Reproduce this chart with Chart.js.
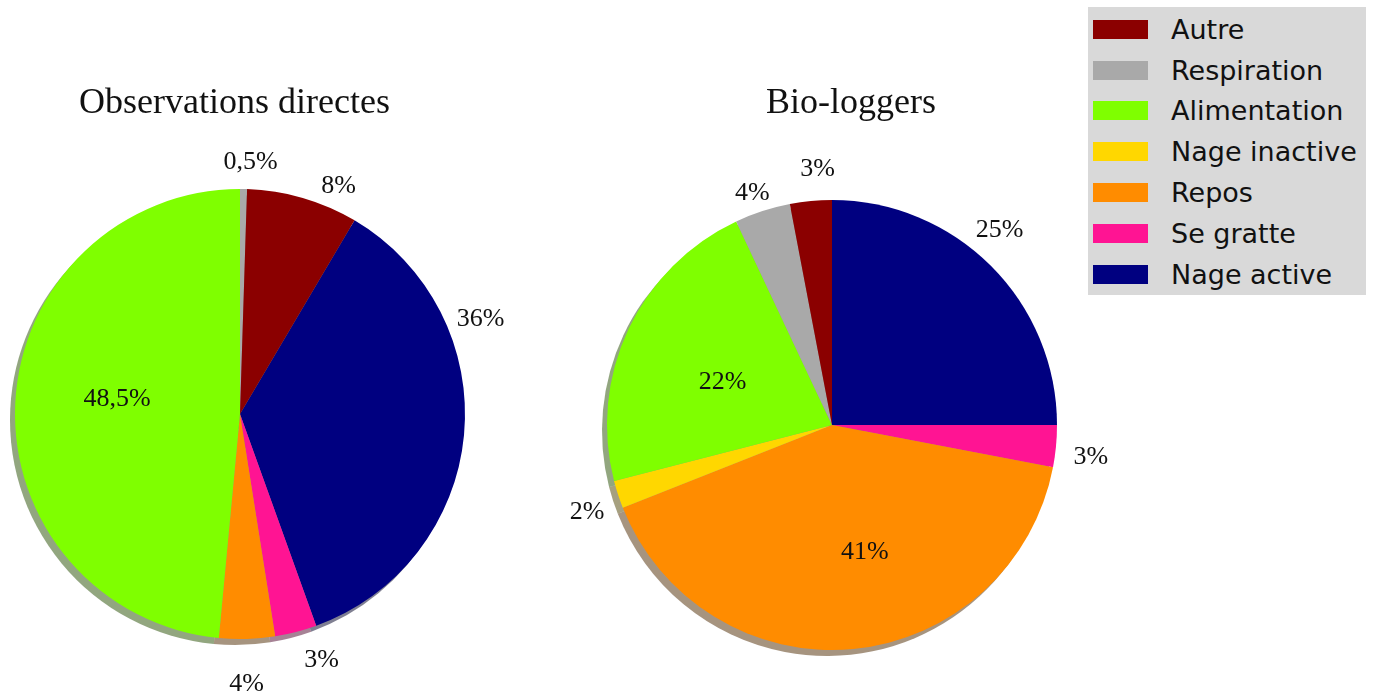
<!DOCTYPE html>
<html>
<head>
<meta charset="utf-8">
<script src="https://cdn.jsdelivr.net/npm/chart.js@4/dist/chart.umd.min.js"></script>
<style>
  html, body { margin: 0; padding: 0; background: #fff; overflow: hidden; }
  #page { position: relative; width: 1374px; height: 697px; }
  canvas { position: absolute; left: 0; top: 0; }
  #legend {
    position: absolute; left: 1088px; top: 7px; width: 278px; height: 288px;
    background: #d9d9d9; box-sizing: border-box; padding-top: 2px;
    font-family: "DejaVu Sans", sans-serif; font-size: 27px; color: #111;
  }
  .row { height: 40.8px; display: flex; align-items: center; }
  .sw { width: 55px; height: 19px; margin-left: 5px; margin-right: 23px; }
</style>
</head>
<body>
<div id="page">
  <canvas id="obsChart" width="1374" height="697"></canvas>
  <canvas id="bioChart" width="1374" height="697"></canvas>
  <div id="legend"></div>
</div>
<script>
// categories in legend order (wedges go counterclockwise in this order)
const categories = ['Autre', 'Respiration', 'Alimentation', 'Nage inactive', 'Repos', 'Se gratte', 'Nage active'];
const colors = ['#8b0000', '#a9a9a9', '#7fff00', '#ffd700', '#ff8c00', '#ff1493', '#000080'];

// percentages
const obsValues = [8, 0.5, 48.5, 0, 4, 3, 36];
const bioValues = [3, 4, 22, 2, 41, 3, 25];
const obsLabels = ['8%', '0,5%', '48,5%', null, '4%', '3%', '36%'];
const bioLabels = ['3%', '4%', '22%', '2%', '41%', '3%', '25%'];

// where each percentage sits: [angle from 12 o'clock (deg, clockwise), distance / radius]
const obsPlaces = [[23.3, 1.108], [2.4, 1.125], [277.4, 0.551], null, [178.6, 1.196], [161.6, 1.148], [68.2, 1.151]];
const bioPlaces = [[356.8, 1.143], [341.1, 1.094], [291.8, 0.524], [250.7, 1.153], [165.4, 0.581], [96.8, 1.158], [40.5, 1.146]];

function shadowOf(hex) {
    const n = parseInt(hex.slice(1), 16);
    const r = (n >> 16) & 255, g = (n >> 8) & 255, b = n & 255;
    return `rgba(${Math.round(r * 0.3)}, ${Math.round(g * 0.3)}, ${Math.round(b * 0.3)}, 0.5)`;
}

const pieDecor = {
    id: 'pieDecor',
    beforeDatasetsDraw(chart, args, opts) {
        const ctx = chart.ctx;
        const arcs = chart.getDatasetMeta(0).data;
        ctx.save();
        arcs.forEach((arc) => {
            const { x, y, startAngle, endAngle, outerRadius } = arc.getProps(['x', 'y', 'startAngle', 'endAngle', 'outerRadius'], true);
            if (endAngle - startAngle <= 0) return;
            ctx.beginPath();
            ctx.moveTo(x + opts.shadowDx, y + opts.shadowDy);
            ctx.arc(x + opts.shadowDx, y + opts.shadowDy, outerRadius, startAngle, endAngle);
            ctx.closePath();
            ctx.fillStyle = shadowOf(arc.options.backgroundColor);
            ctx.fill();
        });
        ctx.restore();
    },
    afterDatasetsDraw(chart, args, opts) {
        const ctx = chart.ctx;
        const arc = chart.getDatasetMeta(0).data[0];
        const cx = arc.x, cy = arc.y, r = arc.outerRadius;
        ctx.save();
        ctx.fillStyle = '#111';
        ctx.textAlign = 'center';
        ctx.textBaseline = 'middle';
        ctx.font = '26px "Liberation Serif", "Times New Roman", serif';
        opts.labels.forEach((txt, i) => {
            const p = opts.places[i];
            if (!txt || !p) return;
            const a = p[0] * Math.PI / 180;
            ctx.fillText(txt, cx + p[1] * r * Math.sin(a), cy - p[1] * r * Math.cos(a) + 1);
        });
        ctx.textBaseline = 'alphabetic';
        ctx.font = '36px "Liberation Serif", "Times New Roman", serif';
        ctx.fillText(opts.title, opts.titleX, opts.titleY);
        ctx.restore();
    }
};

function makePie(id, values, labels, places, title, titleX, padding, rotation) {
    // Chart.js goes clockwise, the original goes counterclockwise: reverse the order
    new Chart(document.getElementById(id), {
        type: 'pie',
        data: {
            labels: categories.slice().reverse(),
            datasets: [{
                data: values.slice().reverse(),
                backgroundColor: colors.slice().reverse(),
                borderWidth: 0
            }]
        },
        options: {
            responsive: false,
            animation: false,
            events: [],
            radius: 225,
            rotation: rotation,
            layout: { padding: padding },
            plugins: {
                legend: { display: false },
                tooltip: { enabled: false },
                pieDecor: {
                    labels: labels,
                    places: places,
                    title: title,
                    titleX: titleX,
                    titleY: 113,
                    shadowDx: -5,
                    shadowDy: 6
                }
            }
        },
        plugins: [pieDecor]
    });
}

// Autre + Respiration (8.5%) sit just right of 12 o'clock on the first pie
makePie('obsChart', obsValues, obsLabels, obsPlaces, 'Observations directes', 234.5,
    { left: 0, right: 894, top: 131, bottom: 0 }, 30.6);
makePie('bioChart', bioValues, bioLabels, bioPlaces, 'Bio-loggers', 851,
    { left: 290, right: 0, top: 153, bottom: 0 }, 0);

// legend
const legend = document.getElementById('legend');
categories.forEach((name, i) => {
    const row = document.createElement('div');
    row.className = 'row';
    row.innerHTML = `<div class="sw" style="background:${colors[i]}"></div><span>${name}</span>`;
    legend.appendChild(row);
});
</script>
</body>
</html>
